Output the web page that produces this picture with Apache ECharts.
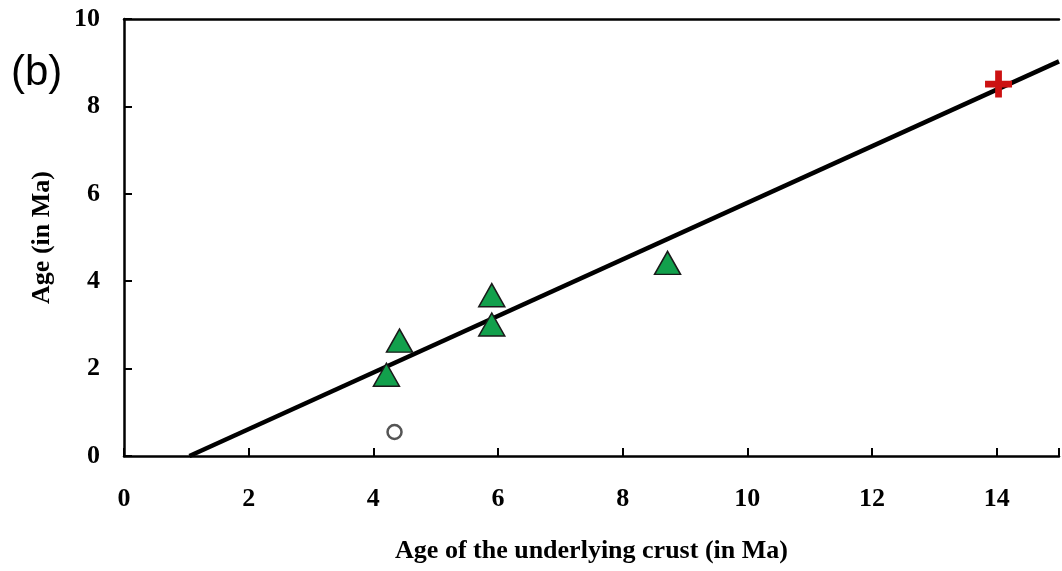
<!DOCTYPE html>
<html>
<head>
<meta charset="utf-8">
<script src="https://cdn.jsdelivr.net/npm/echarts@6/dist/echarts.min.js"></script>
<style>html,body{margin:0;padding:0;background:#fff}#c{width:1062px;height:571px}</style>
</head>
<body>
<div id="c"></div>
<script>
// Data
const triangleX = [4.21, 4.42, 5.90, 5.90, 8.72];
const triangleY = [1.86, 2.64, 3.68, 3.01, 4.42];
const circleX = [4.34];
const circleY = [0.55];
const crossX = [14.03];
const crossY = [8.51];
const fitLineX = [1.05, 15];
const fitLineY = [0, 9.03];
const xTicks = [0, 2, 4, 6, 8, 10, 12, 14];
const yTicks = [0, 2, 4, 6, 8, 10];
const xTitle = 'Age of the underlying crust (in Ma)';
const yTitle = 'Age (in Ma)';
const panelLabel = '(b)';

const zip = (a, b) => a.map((v, i) => [v, b[i]]);
const serif = '"Liberation Serif", "Times New Roman", serif';
const plusPath = 'path://M3,0 L5,0 L5,3 L8,3 L8,5 L5,5 L5,8 L3,8 L3,5 L0,5 L0,3 L3,3 Z';

const chart = echarts.init(document.getElementById('c'), null, {renderer: 'canvas'});
chart.setOption({
  animation: false,
  backgroundColor: '#fff',
  grid: {left: 124, right: 0, top: 19, bottom: 115},
  graphic: [{
    type: 'text', left: 11, top: 52,
    style: {text: panelLabel, font: '42px "Liberation Sans", Arial, sans-serif', fill: '#000'}
  }],
  xAxis: [{
    type: 'value', min: 0, max: 15, interval: 2,
    name: xTitle, nameLocation: 'middle', nameGap: 82,
    nameTextStyle: {fontFamily: serif, fontWeight: 'bold', fontSize: 26, color: '#000'},
    axisLine: {lineStyle: {color: '#000', width: 2.5}},
    axisTick: {inside: true, length: 8, lineStyle: {color: '#000', width: 2}},
    axisLabel: {
      margin: 30, fontFamily: serif, fontWeight: 'bold', fontSize: 26, color: '#000',
      formatter: v => xTicks.includes(v) ? String(v) : ''
    },
    splitLine: {show: false}
  }, {
    type: 'value', position: 'top', min: 0, max: 15,
    axisLine: {show: true, lineStyle: {color: '#000', width: 2.5}},
    axisTick: {show: false}, axisLabel: {show: false}, splitLine: {show: false}
  }],
  yAxis: {
    type: 'value', min: 0, max: 10, interval: 2,
    name: yTitle, nameLocation: 'middle', nameGap: 69, nameRotate: 90,
    nameTextStyle: {fontFamily: serif, fontWeight: 'bold', fontSize: 26, color: '#000'},
    axisLine: {show: true, lineStyle: {color: '#000', width: 2.5}},
    axisTick: {show: true, inside: true, length: 8, lineStyle: {color: '#000', width: 2}},
    axisLabel: {
      margin: 24, fontFamily: serif, fontWeight: 'bold', fontSize: 26, color: '#000',
      formatter: v => yTicks.includes(v) ? String(v) : ''
    },
    splitLine: {show: false}
  },
  series: [{
    type: 'line', data: zip(fitLineX, fitLineY), symbol: 'none',
    lineStyle: {color: '#000', width: 4.5}, z: 2
  }, {
    type: 'scatter', data: zip(triangleX, triangleY), symbol: 'triangle', symbolSize: [26, 23],
    itemStyle: {color: '#12a04c', borderColor: '#1a1a1a', borderWidth: 1.5, opacity: 1}, z: 3
  }, {
    type: 'scatter', data: zip(circleX, circleY), symbol: 'circle', symbolSize: 14,
    itemStyle: {color: '#fff', borderColor: '#555', borderWidth: 2.5, opacity: 1}, z: 3
  }, {
    type: 'scatter', data: zip(crossX, crossY), symbol: plusPath, symbolSize: 27,
    itemStyle: {color: '#cc1111', opacity: 1}, z: 3
  }]
});
</script>
</body>
</html>
